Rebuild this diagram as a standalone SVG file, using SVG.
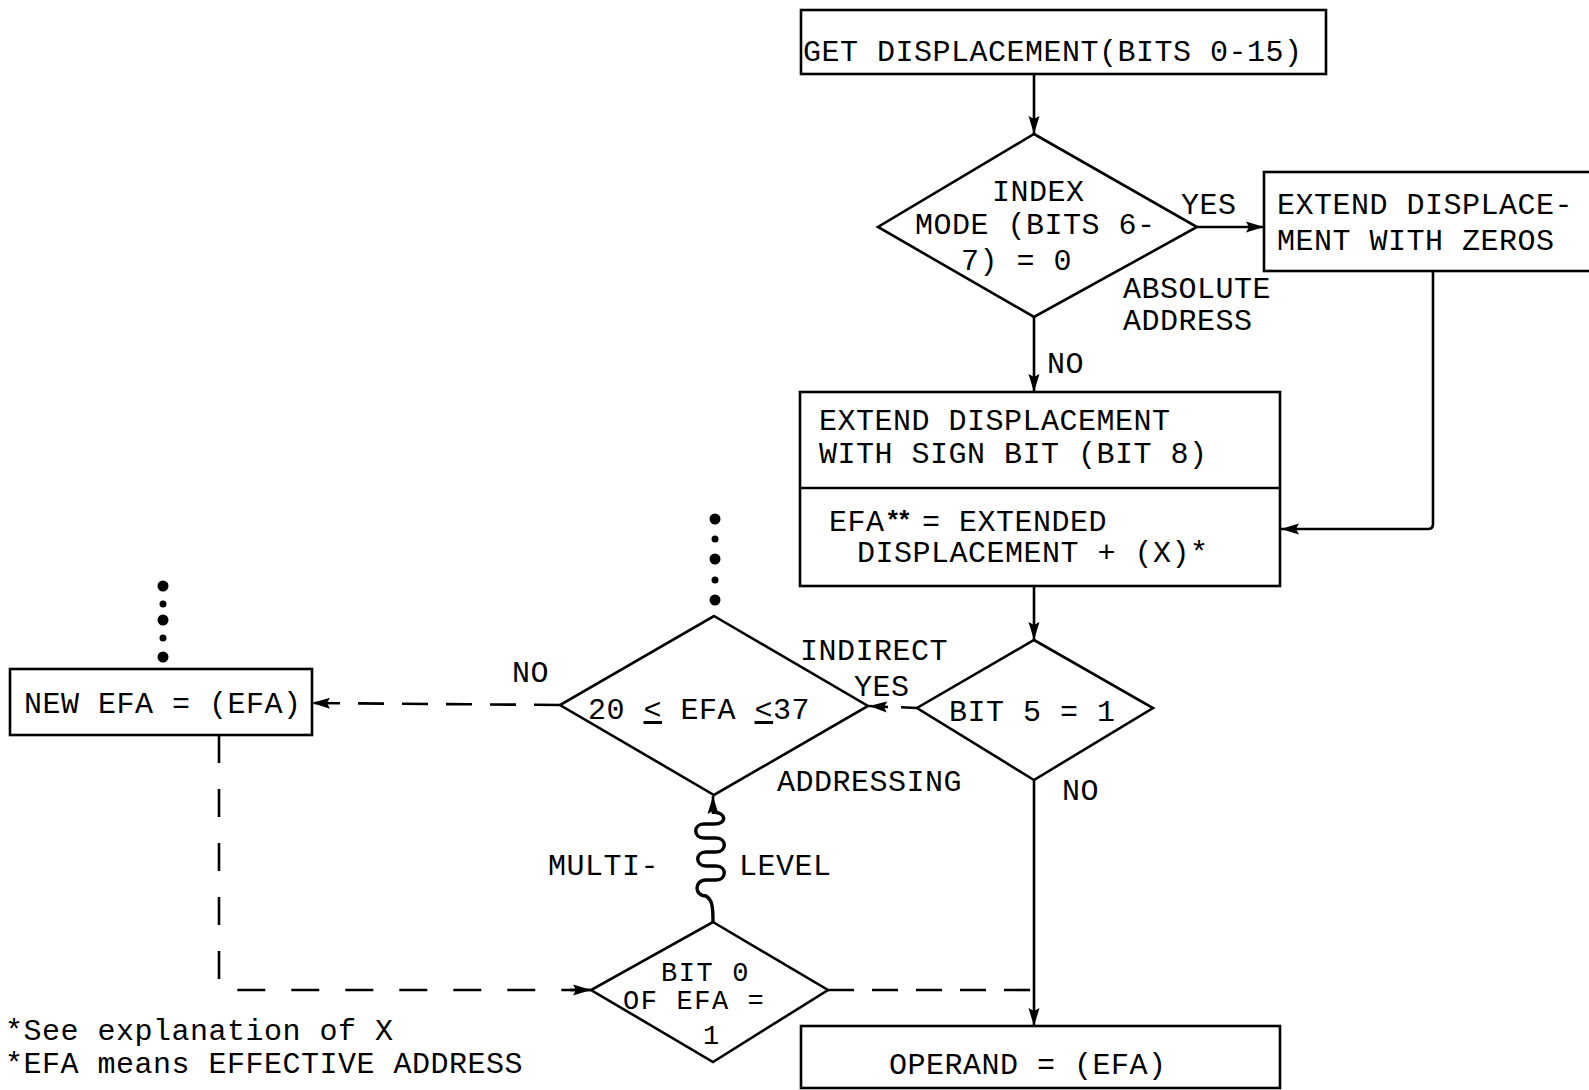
<svg xmlns="http://www.w3.org/2000/svg" width="1589" height="1090" viewBox="0 0 1589 1090">
<style>
.shape{fill:#fff;stroke:#000;stroke-width:2.6}
.ln{fill:none;stroke:#000;stroke-width:2.6}
.dash{fill:none;stroke:#000;stroke-width:2.6;stroke-dasharray:26 18}
text{font-family:"Liberation Mono","Courier New",monospace;font-size:30px;letter-spacing:0.5px;fill:#000}
.sm{font-size:27px;letter-spacing:1.6px}
.dot{fill:#000}
</style>
<defs>
<marker id="arr" markerUnits="userSpaceOnUse" markerWidth="20" markerHeight="12" refX="18" refY="6" orient="auto">
<path d="M0,0.5 L18,6 L0,11.5 L3,6 z" fill="#000"/>
</marker>
</defs>
<rect width="1589" height="1090" fill="#fff"/>

<g id="connectors">
<path class="ln" d="M1034,75 L1034,134" marker-end="url(#arr)"/>
<path class="ln" d="M1197,227 L1264,227" marker-end="url(#arr)"/>
<path class="ln" d="M1034,317 L1034,392" marker-end="url(#arr)"/>
<path class="ln" d="M1433,271 L1433,524 Q1433,529 1428,529 L1281,529" marker-end="url(#arr)"/>
<path class="ln" d="M1034,586 L1034,640" marker-end="url(#arr)"/>
<path class="ln" d="M1034,780 L1034,1026" marker-end="url(#arr)"/>
<path class="dash" d="M917,708 L896,707" style="stroke-dasharray:16 8"/>
<path class="ln" d="M888,707 L869,706" marker-end="url(#arr)"/>
<path class="dash" d="M560,705 L312,703" marker-end="url(#arr)"/>
<path class="dash" d="M219,735 L219,982 Q219,990 228,990 L591,990" style="stroke-dasharray:28 26"/>
<path class="ln" d="M570,990 L591,990" marker-end="url(#arr)"/>
<path class="dash" d="M828,990 L1034,990"/>
<path class="ln" d="M713,814 L713,796" marker-end="url(#arr)"/>
<path class="ln" style="stroke-width:3.4" d="M713,812 C726,812 728,824 714,824 L704,824 C693,824 693,838 704,838 L716,838 C727,838 727,852 716,852 L706,852 C695,852 695,866 706,866 L716,866 C727,866 727,880 716,880 L706,880 C694,880 694,896 706,896 C712,900 713,905 713,922"/>
</g>

<g id="dots1">
<circle class="dot" cx="715" cy="519" r="5.5"/>
<circle class="dot" cx="715" cy="539" r="3.5"/>
<circle class="dot" cx="715" cy="559" r="5.5"/>
<circle class="dot" cx="715" cy="580" r="3.5"/>
<circle class="dot" cx="715" cy="600" r="5.5"/>
</g>
<g id="dots2">
<circle class="dot" cx="163" cy="586" r="5.5"/>
<circle class="dot" cx="163" cy="604" r="3.5"/>
<circle class="dot" cx="163" cy="620" r="5.5"/>
<circle class="dot" cx="163" cy="638" r="3.5"/>
<circle class="dot" cx="163" cy="657" r="5.5"/>
</g>

<g id="get-displacement">
<rect class="shape" x="801" y="10" width="525" height="64"/>
<text x="803" y="61">GET DISPLACEMENT(BITS 0-15)</text>
</g>

<g id="index-mode">
<polygon class="shape" points="1034,134 1197,227 1034,317 878,227"/>
<text x="992" y="201">INDEX</text>
<text x="915" y="234">MODE (BITS 6-</text>
<text x="961" y="270">7) = 0</text>
</g>

<g id="extend-zeros">
<rect class="shape" x="1264" y="172" width="340" height="99"/>
<text x="1277" y="214">EXTEND DISPLACE-</text>
<text x="1277" y="250">MENT WITH ZEROS</text>
</g>

<g id="extend-sign">
<rect class="shape" x="800" y="392" width="480" height="194"/>
<line class="ln" x1="800" y1="488" x2="1280" y2="488"/>
<text x="819" y="430">EXTEND DISPLACEMENT</text>
<text x="819" y="463">WITH SIGN BIT (BIT 8)</text>
<text x="829" y="531">EFA</text>
<text x="885" y="529" style="font-size:26px;font-weight:bold;letter-spacing:-4px">**</text>
<text x="922" y="531">= EXTENDED</text>
<text x="857" y="562">DISPLACEMENT + (X)*</text>
</g>

<g id="bit5">
<polygon class="shape" points="1034,640 1153,708 1034,780 917,708"/>
<text x="949" y="721">BIT 5 = 1</text>
</g>

<g id="efa-range">
<polygon class="shape" points="714,616 868,706 714,795 560,705"/>
<text x="588" y="719">20 <tspan text-decoration="underline">&lt;</tspan> EFA <tspan text-decoration="underline">&lt;</tspan>37</text>
</g>

<g id="new-efa">
<rect class="shape" x="10" y="669" width="302" height="66"/>
<text x="24" y="713">NEW EFA = (EFA)</text>
</g>

<g id="bit0">
<polygon class="shape" points="713,922 828,990 713,1062 591,990"/>
<text class="sm" x="661" y="981">BIT 0</text>
<text class="sm" x="623" y="1009">OF EFA =</text>
<text class="sm" x="703" y="1044">1</text>
</g>

<g id="operand">
<rect class="shape" x="801" y="1026" width="479" height="62"/>
<text x="889" y="1074">OPERAND = (EFA)</text>
</g>

<g id="labels">
<text x="1181" y="214">YES</text>
<text x="1123" y="298">ABSOLUTE</text>
<text x="1123" y="330">ADDRESS</text>
<text x="1047" y="373">NO</text>
<text x="800" y="660">INDIRECT</text>
<text x="854" y="696">YES</text>
<text x="777" y="791">ADDRESSING</text>
<text x="1062" y="800">NO</text>
<text x="512" y="682">NO</text>
<text x="548" y="875">MULTI-</text>
<text x="739" y="875">LEVEL</text>
<text x="5" y="1040">*See explanation of X</text>
<text x="5" y="1073">*EFA means EFFECTIVE ADDRESS</text>
</g>
</svg>
